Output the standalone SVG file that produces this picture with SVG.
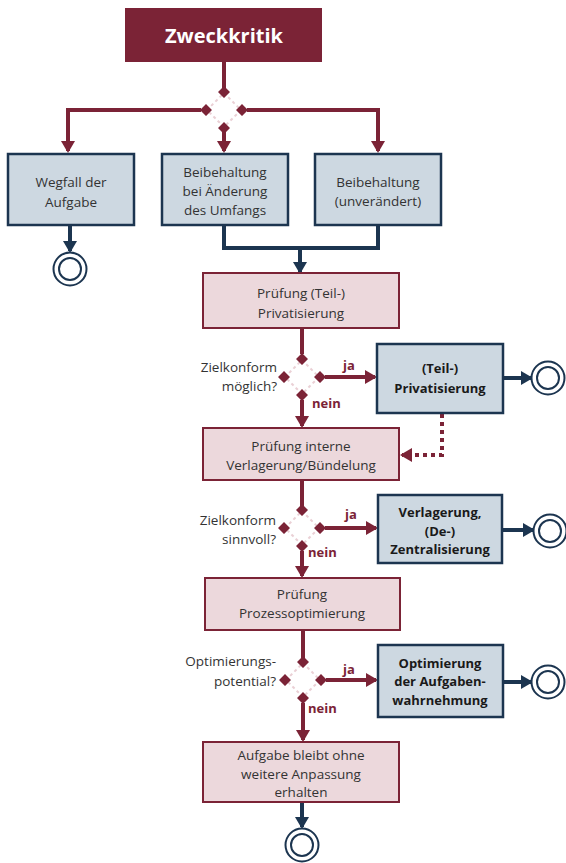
<svg xmlns="http://www.w3.org/2000/svg" width="566" height="863" viewBox="0 0 566 863">
<defs>
<style>
.t{font-family:"Open Sans","Noto Sans",sans-serif;font-size:13.5px;fill:#333;text-anchor:middle}
.b{font-weight:bold;font-size:13px;fill:#1a1a1a}
.lbl{font-family:"Open Sans","Noto Sans",sans-serif;font-size:13.5px;fill:#333;text-anchor:end}
.yn{font-family:"Open Sans","Noto Sans",sans-serif;font-size:13px;font-weight:bold;fill:#7b2336}
.blue{fill:#cdd8e1;stroke:#1c3550;stroke-width:2.5}
.pink{fill:#ecd8dc;stroke:#7b2336;stroke-width:2}
.rl{fill:none;stroke:#7b2336;stroke-width:4}
.nl{fill:none;stroke:#1c3550;stroke-width:4}
.dot{fill:none;stroke:#7b2336;stroke-width:4;stroke-dasharray:4 4}
.end{fill:#fff;stroke:#1c3550;stroke-width:2}
.dm{fill:#7b2336}
.dmo{fill:none;stroke:#ead0d5;stroke-width:2;stroke-dasharray:3 3}
</style>
<marker id="ar" markerUnits="userSpaceOnUse" markerWidth="14" markerHeight="14" refX="10" refY="7" orient="auto"><path d="M0,0 L12,7 L0,14 Z" fill="#7b2336"/></marker>
<marker id="an" markerUnits="userSpaceOnUse" markerWidth="14" markerHeight="14" refX="10" refY="7" orient="auto"><path d="M0,0 L12,7 L0,14 Z" fill="#1c3550"/></marker>
<g id="dia">
<path class="dmo" d="M0,-17 L17,0 L0,17 L-17,0 Z"/>
<path class="dm" d="M0,-24 L6,-18 L0,-12 L-6,-18 Z M18,-6 L24,0 L18,6 L12,0 Z M0,12 L6,18 L0,24 L-6,18 Z M-18,-6 L-12,0 L-18,6 L-24,0 Z"/>
</g>
</defs>
<rect width="566" height="863" fill="#fff"/>

<g id="connectors">
<path class="rl" d="M224,62 V88"/>
<path class="rl" d="M201,110 H68 V151" marker-end="url(#ar)"/>
<path class="rl" d="M224,132 V151" marker-end="url(#ar)"/>
<path class="rl" d="M247,110 H378 V151" marker-end="url(#ar)"/>
<path class="nl" d="M70,225 V251" marker-end="url(#an)"/>
<path class="nl" d="M224,225 V248 H378 V225"/>
<path class="nl" d="M300,248 V272" marker-end="url(#an)"/>
<path class="rl" d="M302,328 V354"/>
<path class="rl" d="M325,377 H375" marker-end="url(#ar)"/>
<path class="rl" d="M302,400 V426" marker-end="url(#ar)"/>
<path class="nl" d="M503,378 H531" marker-end="url(#an)"/>
<path class="dot" d="M442,414 V455 H402" marker-end="url(#ar)"/>
<path class="rl" d="M302,480 V506"/>
<path class="rl" d="M325,528 H376" marker-end="url(#ar)"/>
<path class="rl" d="M302,551 V576" marker-end="url(#ar)"/>
<path class="nl" d="M502,530 H533" marker-end="url(#an)"/>
<path class="rl" d="M303,630 V658"/>
<path class="rl" d="M326,680 H376" marker-end="url(#ar)"/>
<path class="rl" d="M303,703 V740" marker-end="url(#ar)"/>
<path class="nl" d="M503,682 H531" marker-end="url(#an)"/>
<path class="nl" d="M302,802 V827" marker-end="url(#an)"/>
</g>

<g id="zweckkritik">
<rect x="125" y="8" width="197" height="54" fill="#7b2336"/>
<text x="224" y="43" font-family="Open Sans, Noto Sans, sans-serif" font-size="20" font-weight="bold" fill="#fff" text-anchor="middle">Zweckkritik</text>
</g>
<g id="gw1"><use href="#dia" x="224" y="110"/></g>

<g id="wegfall">
<rect class="blue" x="8" y="154" width="126" height="71"/>
<text class="t" x="71" y="187">Wegfall der</text>
<text class="t" x="71" y="207">Aufgabe</text>
</g>
<g id="beib-aend">
<rect class="blue" x="162" y="154" width="126" height="71"/>
<text class="t" x="225" y="177">Beibehaltung</text>
<text class="t" x="225" y="196">bei Änderung</text>
<text class="t" x="225" y="215">des Umfangs</text>
</g>
<g id="beib-unv">
<rect class="blue" x="315" y="154" width="126" height="71"/>
<text class="t" x="378" y="187">Beibehaltung</text>
<text class="t" x="378" y="206">(unverändert)</text>
</g>
<g id="end1"><circle class="end" cx="70" cy="269" r="16.5"/><circle class="end" cx="70" cy="269" r="11"/></g>

<g id="pruef-priv">
<rect class="pink" x="203" y="273" width="196" height="55"/>
<text class="t" x="301" y="298">Prüfung (Teil-)</text>
<text class="t" x="301" y="318">Privatisierung</text>
</g>
<g id="gw2"><use href="#dia" x="302" y="377"/>
<text class="lbl" x="277" y="372">Zielkonform</text>
<text class="lbl" x="277" y="391">möglich?</text>
<text class="yn" x="343" y="370">ja</text>
<text class="yn" x="312" y="408">nein</text>
</g>
<g id="priv">
<rect class="blue" x="377" y="344" width="126" height="69"/>
<text class="t b" x="440" y="373">(Teil-)</text>
<text class="t b" x="440" y="393">Privatisierung</text>
</g>
<g id="end2"><circle class="end" cx="548" cy="378" r="16.5"/><circle class="end" cx="548" cy="378" r="11"/></g>

<g id="pruef-verl">
<rect class="pink" x="203" y="428" width="196" height="52"/>
<text class="t" x="301" y="451">Prüfung interne</text>
<text class="t" x="301" y="470">Verlagerung/Bündelung</text>
</g>
<g id="gw3"><use href="#dia" x="302" y="528"/>
<text class="lbl" x="276" y="525">Zielkonform</text>
<text class="lbl" x="276" y="544">sinnvoll?</text>
<text class="yn" x="345" y="519">ja</text>
<text class="yn" x="308" y="557">nein</text>
</g>
<g id="verl">
<rect class="blue" x="378" y="495" width="124" height="68"/>
<text class="t b" x="440" y="517">Verlagerung,</text>
<text class="t b" x="440" y="536">(De-)</text>
<text class="t b" x="440" y="554">Zentralisierung</text>
</g>
<g id="end3"><circle class="end" cx="550" cy="531" r="16.5"/><circle class="end" cx="550" cy="531" r="11"/></g>

<g id="pruef-proz">
<rect class="pink" x="205" y="578" width="195" height="52"/>
<text class="t" x="302" y="599">Prüfung</text>
<text class="t" x="302" y="618">Prozessoptimierung</text>
</g>
<g id="gw4"><use href="#dia" x="303" y="680"/>
<text class="lbl" x="276" y="666">Optimierungs-</text>
<text class="lbl" x="276" y="686">potential?</text>
<text class="yn" x="343" y="674">ja</text>
<text class="yn" x="308" y="713">nein</text>
</g>
<g id="optim">
<rect class="blue" x="378" y="645" width="125" height="72"/>
<text class="t b" x="440" y="668">Optimierung</text>
<text class="t b" x="440" y="686">der Aufgaben-</text>
<text class="t b" x="440" y="705">wahrnehmung</text>
</g>
<g id="end4"><circle class="end" cx="548" cy="682" r="16.5"/><circle class="end" cx="548" cy="682" r="11"/></g>

<g id="bleibt">
<rect class="pink" x="203" y="742" width="196" height="60"/>
<text class="t" x="301" y="760">Aufgabe bleibt ohne</text>
<text class="t" x="301" y="779">weitere Anpassung</text>
<text class="t" x="301" y="797">erhalten</text>
</g>
<g id="end5"><circle class="end" cx="302" cy="845" r="16.5"/><circle class="end" cx="302" cy="845" r="11"/></g>
</svg>
